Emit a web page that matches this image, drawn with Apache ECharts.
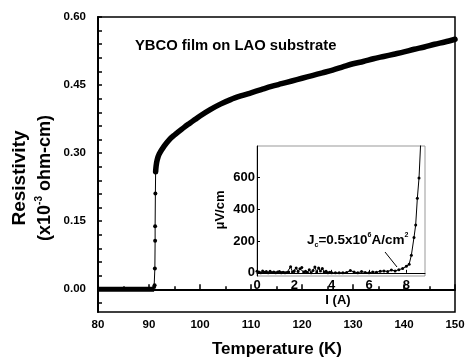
<!DOCTYPE html>
<html><head><meta charset="utf-8">
<script src="https://cdn.jsdelivr.net/npm/echarts@6/dist/echarts.min.js"></script>
<style>html,body{margin:0;padding:0;background:#fff}#c{width:468px;height:360px}</style>
</head><body><div id="c"></div>
<script>
// ---- main chart data: temperature (K) vs resistivity (x10^-3 ohm-cm)
const zeroT   = [80, 82, 84, 86, 88, 90, 91.0];
const zeroR   = [0, 0, 0, 0, 0, 0, 0];
const transT  = [91.0, 91.1, 91.15, 91.2, 91.2, 91.25, 91.3];
const transR  = [0.005, 0.009, 0.046, 0.107, 0.139, 0.211, 0.259];
const curveT  = [91.3, 91.4, 91.6, 92, 93, 94, 95, 96, 97, 98, 99, 100, 102, 104, 106, 108, 110, 112, 114, 116, 118, 120, 122, 124, 126, 128, 130, 132, 134, 136, 138, 140, 142, 144, 146, 148, 150];
const curveR  = [0.259, 0.272, 0.285, 0.298, 0.316, 0.330, 0.340, 0.349, 0.358, 0.366, 0.374, 0.382, 0.396, 0.408, 0.418, 0.426, 0.433, 0.440, 0.447, 0.453, 0.459, 0.465, 0.471, 0.477, 0.483, 0.490, 0.497, 0.502, 0.508, 0.513, 0.518, 0.523, 0.529, 0.534, 0.540, 0.545, 0.551];
const yLabelVals = [0, 0.15, 0.30, 0.45, 0.60];
const yTickVals  = [-0.03, 0, 0.03, 0.06, 0.09, 0.12, 0.15, 0.18, 0.21, 0.24, 0.27, 0.30, 0.33, 0.36, 0.39, 0.42, 0.45, 0.48, 0.51, 0.54, 0.57, 0.60];
// ---- inset data: current I (A) vs uV/cm
const insetI = [0,0.1,0.2,0.3,0.4,0.5,0.6,0.7,0.8,0.9,1.0,1.1,1.2,1.3,1.4,1.5,1.6,1.7,1.8,1.9,2.0,2.1,2.2,2.3,2.4,2.5,2.6,2.7,2.8,2.9,3.0,3.1,3.2,3.3,3.4,3.5,3.6,3.7,3.8,3.9,4.0,4.2,4.4,4.6,4.8,5.0,5.2,5.4,5.6,5.8,6.0,6.2,6.4,6.6,6.8,7.0,7.2,7.4,7.6,7.8,8.0,8.15,8.27,8.41,8.5,8.59,8.68,8.8];
const insetV = [10,5,0,12,3,8,0,10,2,6,0,5,8,0,4,0,2,6,38,5,12,30,8,25,34,6,10,2,20,0,15,36,5,30,12,28,5,10,0,3,0,0,0,0,2,15,5,0,8,2,0,6,3,10,12,8,18,12,20,27,41,54,111,223,301,471,598,900];
const insetYLabels = [0, 200, 400, 600];

const pairs = (a, b) => a.map((v, i) => [v, b[i]]);
const FONT = '"Liberation Sans", Arial, sans-serif';
const lab = {color:'#000', fontFamily:FONT, fontWeight:'bold', fontSize:11.5};
const labIn = {color:'#000', fontFamily:FONT, fontWeight:'bold', fontSize:13};

const chart = echarts.init(document.getElementById('c'));
chart.setOption({
  animation:false,
  backgroundColor:'#fff',
  grid:[
    {left:98, top:17, width:357, height:295, show:true, borderColor:'#000', borderWidth:1.5, backgroundColor:'transparent'},
    {left:257, top:146, width:168, height:130, show:true, borderColor:'#999', borderWidth:1, backgroundColor:'#fff', z:5}
  ],
  xAxis:[
    {gridIndex:0, type:'value', min:80, max:150, interval:10,
     axisLine:{lineStyle:{color:'#000', width:2}},
     axisTick:{inside:true, length:5, lineStyle:{color:'#000', width:1.5}},
     minorTick:{show:true, splitNumber:2, length:3, lineStyle:{color:'#000', width:1.5}},
     splitLine:{show:false},
     axisLabel:Object.assign({margin:7}, lab)},
    {gridIndex:1, type:'value', min:0, max:9, interval:2, z:6,
     axisLine:{lineStyle:{color:'#000', width:1}},
     axisTick:{inside:true, length:3, lineStyle:{color:'#000'}},
     splitLine:{show:false},
     axisLabel:Object.assign({margin:3, showMaxLabel:false}, labIn)}
  ],
  yAxis:[
    {gridIndex:0, type:'value', min:-0.05, max:0.60,
     axisLine:{show:true, lineStyle:{color:'#000', width:2}},
     axisTick:{show:true, inside:true, length:4, customValues:yTickVals, lineStyle:{color:'#000', width:1.5}},
     splitLine:{show:false},
     axisLabel:Object.assign({margin:12, customValues:yLabelVals, formatter:v=>v.toFixed(2)}, lab)},
    {gridIndex:1, type:'value', min:-20, max:800, z:6,
     axisLine:{show:true, lineStyle:{color:'#000', width:1}},
     axisTick:{show:true, inside:true, length:3, customValues:insetYLabels, lineStyle:{color:'#000'}},
     splitLine:{show:false},
     axisLabel:Object.assign({margin:2, customValues:insetYLabels}, labIn)}
  ],
  series:[
    {type:'line', xAxisIndex:0, yAxisIndex:0, data:pairs(zeroT, zeroR), showSymbol:false, lineStyle:{color:'#000', width:5}},
    {type:'line', xAxisIndex:0, yAxisIndex:0, data:pairs(transT, transR), symbol:'circle', symbolSize:4, itemStyle:{color:'#000'}, lineStyle:{color:'#000', width:1}},
    {type:'line', xAxisIndex:0, yAxisIndex:0, data:pairs(curveT, curveR), showSymbol:false, smooth:0.3, lineStyle:{color:'#000', width:5.5, cap:'round', join:'round'}},
    {type:'line', xAxisIndex:1, yAxisIndex:1, data:pairs(insetI, insetV), symbol:'circle', symbolSize:3, clip:true, z:7, itemStyle:{color:'#000'}, lineStyle:{color:'#000', width:1}}
  ],
  graphic:[
    {type:'text', x:135, y:46, z:10, style:{text:'YBCO film on LAO substrate', fontFamily:FONT, fontWeight:'bold', fontSize:14.8, fill:'#000', verticalAlign:'middle'}},
    {type:'text', x:20, y:178, rotation:Math.PI/2, z:10, style:{text:'Resistivity', fontFamily:FONT, fontWeight:'bold', fontSize:19, fill:'#000', align:'center', verticalAlign:'middle'}},
    {type:'text', x:45, y:178, rotation:Math.PI/2, z:10, style:{
      text:'{n|(x10}{s|-3}{n| ohm-cm)}', align:'center', verticalAlign:'middle',
      rich:{n:{fontFamily:FONT, fontWeight:'bold', fontSize:18, fill:'#000'},
            s:{fontFamily:FONT, fontWeight:'bold', fontSize:10, fill:'#000', padding:[0,0,11,0]}}}},
    {type:'text', x:277, y:349, z:10, style:{text:'Temperature (K)', fontFamily:FONT, fontWeight:'bold', fontSize:17, fill:'#000', align:'center', verticalAlign:'middle'}},
    {type:'text', x:338, y:300, z:10, style:{text:'I (A)', fontFamily:FONT, fontWeight:'bold', fontSize:13, fill:'#000', align:'center', verticalAlign:'middle'}},
    {type:'text', x:220, y:210, rotation:Math.PI/2, z:10, style:{text:'μV/cm', fontFamily:FONT, fontWeight:'bold', fontSize:13, fill:'#000', align:'center', verticalAlign:'middle'}},
    {type:'text', x:307, y:240, z:10, style:{
      text:'{n|J}{b|c}{n|=0.5x10}{s|6}{n|A/cm}{s|2}', verticalAlign:'middle',
      rich:{n:{fontFamily:FONT, fontWeight:'bold', fontSize:13.5, fill:'#000'},
            s:{fontFamily:FONT, fontWeight:'bold', fontSize:7, fill:'#000', padding:[0,0,10,0]},
            b:{fontFamily:FONT, fontWeight:'bold', fontSize:7, fill:'#000', padding:[10,0,0,0]}}}},
    {type:'line', z:10, shape:{x1:385, y1:252, x2:397, y2:267}, style:{stroke:'#000', lineWidth:1}}
  ]
});
</script>
</body></html>
